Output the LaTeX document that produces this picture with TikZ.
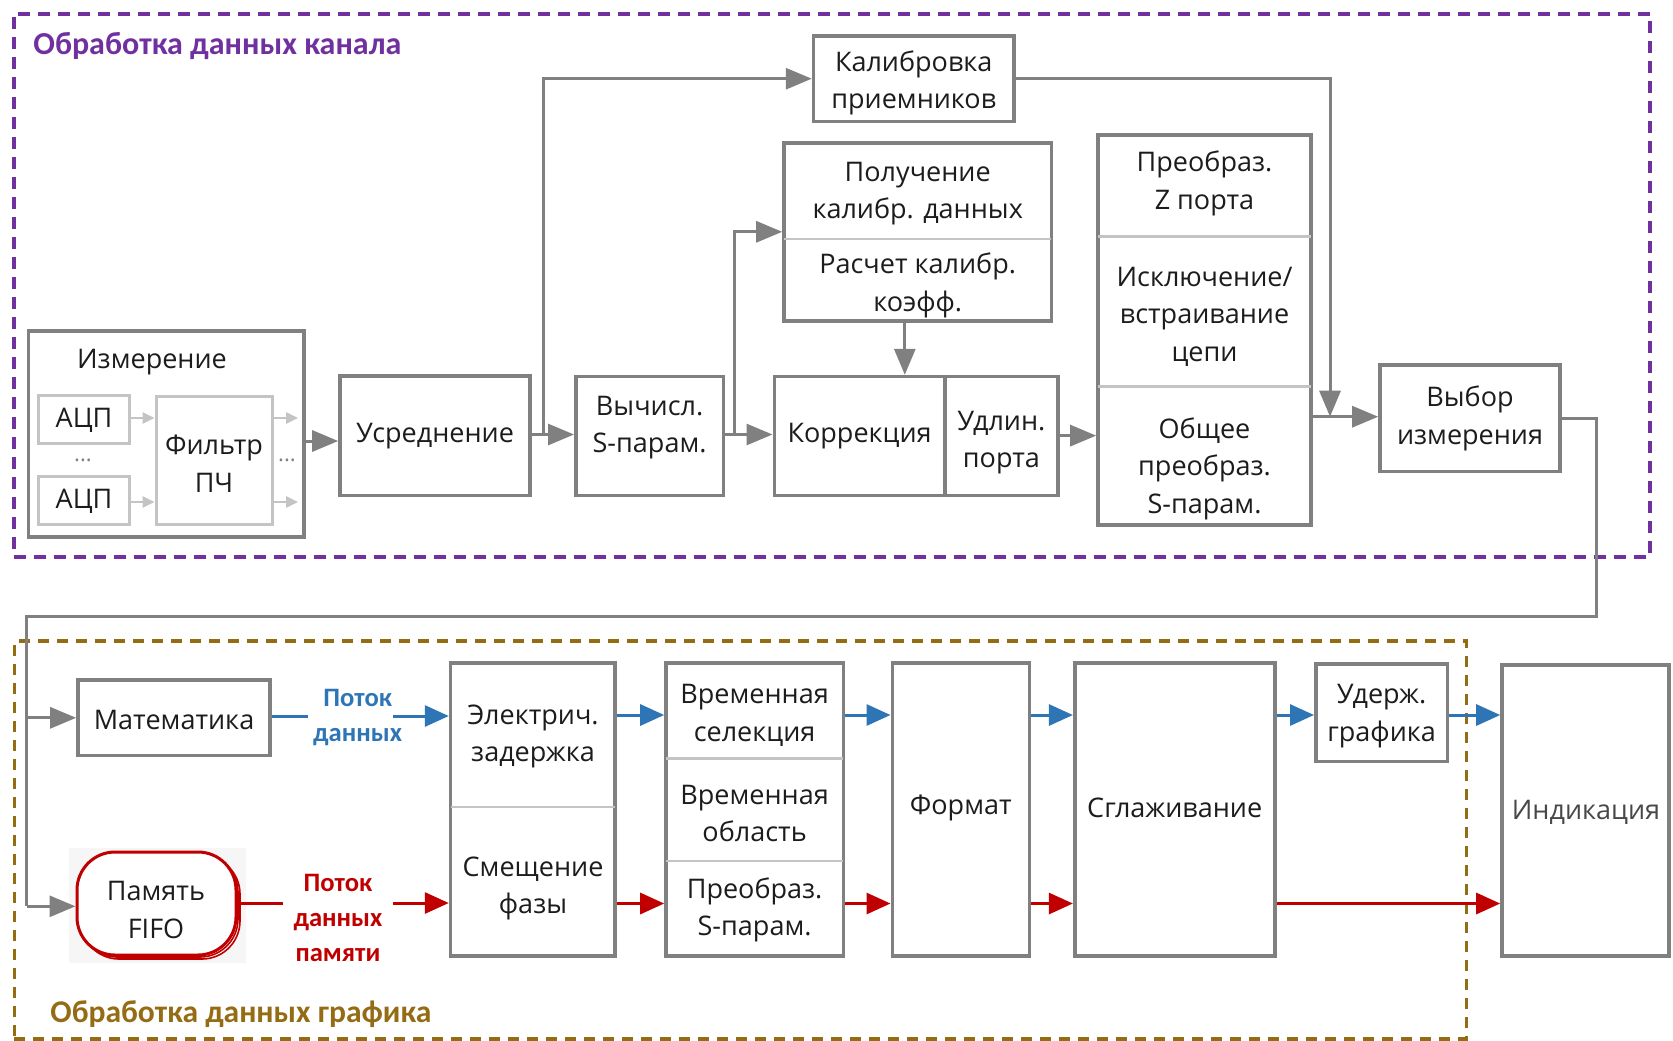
\documentclass[tikz,border=0pt]{standalone}
\usepackage{fontspec}
\setmainfont{Open Sans}
\newfontfamily\calib{Carlito}
\usetikzlibrary{arrows.meta,fit,calc}
\definecolor{bgray}{RGB}{128,128,128}
\definecolor{lgray}{RGB}{196,196,196}
\definecolor{purp}{RGB}{112,48,160}
\definecolor{goldc}{RGB}{148,108,20}
\definecolor{fblue}{RGB}{46,117,182}
\definecolor{fred}{RGB}{192,0,0}
\definecolor{txtc}{RGB}{28,28,28}
\definecolor{indc}{RGB}{72,72,72}
\begin{document}
\begin{tikzpicture}[x=0.5pt,y=-0.5pt,
  txtf/.style={font=\fontsize{13.5}{18.75}\selectfont, text=txtc},
  bx/.style={draw=bgray, line width=1.8pt, fill=white, inner sep=0pt},
  lbx/.style={draw=lgray, line width=1.5pt, fill=white, inner sep=0pt},
  lbl/.style={align=center, inner sep=0pt, txtf, yshift=-0.9pt},
  div/.style={draw=lgray, line width=1.4pt, shorten <=0.9pt, shorten >=0.9pt},
  arr/.style={draw=bgray, line width=1.5pt, -{Triangle[length=13pt,width=10.5pt]}},
  ln/.style={draw=bgray, line width=1.5pt},
  barr/.style={draw=fblue, line width=1.5pt, -{Triangle[length=12pt,width=10.5pt]}},
  rarr/.style={draw=fred, line width=1.5pt, -{Triangle[length=12pt,width=10.5pt]}},
  bln/.style={draw=fblue, line width=1.5pt},
  rln/.style={draw=fred, line width=1.5pt},
  sarr/.style={draw=lgray, line width=1.3pt, -{Triangle[length=6pt,width=5.5pt]}},
  flowlbl/.style={align=center, inner sep=0pt, font=\calib\bfseries\fontsize{13.3}{17.5}\selectfont},
  grp/.style={inner sep=0pt, fill=none},
  titf/.style={anchor=west, inner sep=0pt, font=\calib\bfseries\fontsize{16}{18}\selectfont},
  fifosh/.style={draw=fred, fill=white, rounded corners=19pt, minimum width=79.5pt, minimum height=51.5pt, inner sep=0pt},
]
\useasboundingbox (0,0) rectangle (1673,1040);

% ---------- group frames ----------
\node[grp, draw=purp, line width=2.1pt, dash pattern=on 6pt off 4pt, fit={(13.6,13.6) (1650,557)}] (grpA) {};
\node[grp, draw=goldc, line width=1.6pt, dash pattern=on 5.5pt off 4pt, fit={(14.3,641) (1466.4,1039)}] (grpB) {};
\node[titf, text=purp] (titA) at (33,46) {Обработка данных канала};
\node[titf, text=goldc, font=\calib\bfseries\fontsize{15.8}{18}\selectfont] (titB) at (50,1014) {Обработка данных графика};

% ---------- channel processing ----------
\node[bx, fit={(28.6,331) (304,537)}] (izm) {};
\node[lbl] (izmt) at (152,360) {Измерение};
\node[lbx, fit={(38.6,395) (129.5,443)}] (adc1) {};
\node[lbl] (adc1t) at (84,419) {АЦП};
\node[lbx, fit={(38.6,476) (129.5,524)}] (adc2) {};
\node[lbl] (adc2t) at (84,500) {АЦП};
\node[lbx, fit={(156,396) (272,524)}] (filt) {};
\node[lbl] (filtt) at (214,462) {Фильтр\\ПЧ};
\node[inner sep=0pt, text=bgray, font=\fontsize{11}{12}\selectfont] (dots1) at (83,460) {...};
\node[inner sep=0pt, text=bgray, font=\fontsize{11}{12}\selectfont] (dots2) at (287,460) {...};
\coordinate (fo1) at (298,418);
\coordinate (fo2) at (298,502);

\node[bx, fit={(340,376) (530,495.5)}] (usr) {};
\node[lbl] (usrt) at (435,434.5) {Усреднение};
\node[bx, fit={(575.8,376.6) (723.5,495.3)}] (vych) {};
\node[lbl] (vycht) at (649.6,426) {Вычисл.\\S-парам.};
\node[bx, fit={(813.6,35.8) (1013.9,121.6)}] (kal) {};
\node[lbl] (kalt) at (913.7,81.3) {Калибровка\\приемников};
\node[bx, fit={(784,143) (1051.4,321)}] (pol) {};
\node[lbl] (polt1) at (917.7,192) {Получение\\калибр. данных};
\node[lbl] (polt2) at (917.7,283.4) {Расчет калибр.\\коэфф.};
\node[bx, fit={(774.3,376.6) (944.9,495.3)}] (korr) {};
\node[lbl] (korrt) at (859.6,434.5) {Коррекция};
\node[bx, fit={(944.9,376.6) (1057.9,495.3)}] (udl) {};
\node[lbl] (udlt) at (1001.4,441) {Удлин.\\порта};
\node[bx, fit={(1098,135) (1311,525)}] (preo) {};
\node[lbl] (preot1) at (1204.5,181.5) {Преобраз.\\Z порта};
\node[lbl] (preot2) at (1204.5,314.7) {Исключение/\\встраивание\\цепи};
\node[lbl] (preot3) at (1204.5,466.7) {Общее\\преобраз.\\S-парам.};
\node[bx, fit={(1380,364.8) (1560,471.4)}] (vyb) {};
\node[lbl] (vybt) at (1470,416.7) {Выбор\\измерения};

\draw[div] (pol.west |- 0,239) -- (pol.east |- 0,239);
\draw[div] (preo.west |- 0,236.8) -- (preo.east |- 0,236.8);
\draw[div] (preo.west |- 0,386.3) -- (preo.east |- 0,386.3);

% connectors (top)
\draw[sarr] (adc1.east |- fo1) -- (filt.west |- fo1);
\draw[sarr] (adc2.east |- fo2) -- (filt.west |- fo2);
\draw[sarr] (filt.east |- fo1) -- (fo1);
\draw[sarr] (filt.east |- fo2) -- (fo2);
\draw[arr] (izm.east |- 0,441) -- (usr.west |- 0,441);
\coordinate (j1) at (543.6,434.5);
\draw[arr] (usr.east |- j1) -- (vych.west |- j1);
\draw[arr] (j1) |- (kal.west);
\coordinate (j2) at (734.2,434.5);
\draw[arr] (vych.east |- j2) -- (korr.west |- j2);
\draw[arr] (j2) |- (pol.west |- 0,231.8);
\draw[arr] (pol.south -| 904.8,0) -- (korr.north -| 904.8,0);
\draw[arr] (udl.east |- 0,435.6) -- (preo.west |- 0,435.6);
\coordinate (j3) at (1330,416.7);
\draw[arr] (kal.east) -| (j3);
\draw[arr] (preo.east |- j3) -- (vyb.west |- j3);

% ---------- trace processing ----------
\node[bx, fit={(78,680) (270,755.4)}] (mat) {};
\node[lbl] (matt) at (174,717.8) {Математика};
\node[inner sep=0pt, fill=gray!7, fit={(69,848) (246,963)}] (fifobg) {};
\node[fifosh, line width=0.8pt] (fifo3) at (160.5,907.5) {};
\node[fifosh, line width=0.8pt] (fifo2) at (158.5,905.5) {};
\node[fifosh, line width=1.5pt] (fifo) at (156.5,903.5) {};
\node[lbl] (fifot) at (156,908) {Память\\FIFO};

\node[bx, fit={(450.6,663) (615,955.7)}] (el) {};
\node[lbl] (elt1) at (533,734.8) {Электрич.\\задержка};
\node[lbl] (elt2) at (533,886.8) {Смещение\\фазы};
\draw[div] (el.west |- 0,807) -- (el.east |- 0,807);

\node[bx, fit={(666,663) (843.3,955.7)}] (vrem) {};
\node[lbl] (vremt1) at (754.6,713.3) {Временная\\селекция};
\node[lbl] (vremt2) at (754.6,811.7) {Временная\\область};
\node[lbl] (vremt3) at (754.6,908.2) {Преобраз.\\S-парам.};
\draw[div] (vrem.west |- 0,758.3) -- (vrem.east |- 0,758.3);
\draw[div] (vrem.west |- 0,861) -- (vrem.east |- 0,861);

\node[bx, fit={(892.3,663) (1029.3,955.7)}] (fmt) {};
\node[lbl] (fmtt) at (960.8,806) {Формат};
\node[bx, fit={(1074.7,663) (1274.7,955.7)}] (sgl) {};
\node[lbl] (sglt) at (1174.7,806) {Сглаживание};
\node[bx, fit={(1315.8,664) (1447.4,761.5)}] (uder) {};
\node[lbl] (udert) at (1381.6,714.3) {Удерж.\\графика};
\node[bx, fit={(1502,665) (1669,955.7)}] (ind) {};
\node[lbl, text=indc] (indt) at (1586,811) {Индикация};

% flow labels
\node[flowlbl, text=fblue] (fl1) at (357.6,717.8) {Поток\\данных};
\node[flowlbl, text=fred] (fl2) at (338,918) {Поток\\данных\\памяти};

% connectors (bottom)
\coordinate (c1) at (1596,616.6);
\coordinate (c2) at (26.8,616.6);
\coordinate (c3) at (26.8,906.3);
\coordinate (c4) at (26.8,717.8);
\draw[ln] (vyb.east) -| (c1) -- (c2) -- (c3);
\draw[arr] (c4) -- (mat.west |- c4);
\draw[arr] (c3) -- (fifo.west |- c3);

\coordinate (b1) at (308.3,716);
\coordinate (b2) at (393.4,716);
\draw[bln] (mat.east |- b1) -- (b1);
\draw[barr] (b2) -- (el.west |- b2);
\coordinate (r1) at (282.5,903);
\coordinate (r2) at (393.4,903);
\draw[rln] (fifo.east |- r1) -- (r1);
\draw[rarr] (r2) -- (el.west |- r2);

\coordinate (by) at (0,715);
\coordinate (ry) at (0,903.5);
\draw[barr] (el.east |- by) -- (vrem.west |- by);
\draw[barr] (vrem.east |- by) -- (fmt.west |- by);
\draw[barr] (fmt.east |- by) -- (sgl.west |- by);
\draw[barr] (sgl.east |- by) -- (uder.west |- by);
\draw[barr] (uder.east |- by) -- (ind.west |- by);
\draw[rarr] (el.east |- ry) -- (vrem.west |- ry);
\draw[rarr] (vrem.east |- ry) -- (fmt.west |- ry);
\draw[rarr] (fmt.east |- ry) -- (sgl.west |- ry);
\draw[rarr] (sgl.east |- ry) -- (ind.west |- ry);
\end{tikzpicture}
\end{document}
